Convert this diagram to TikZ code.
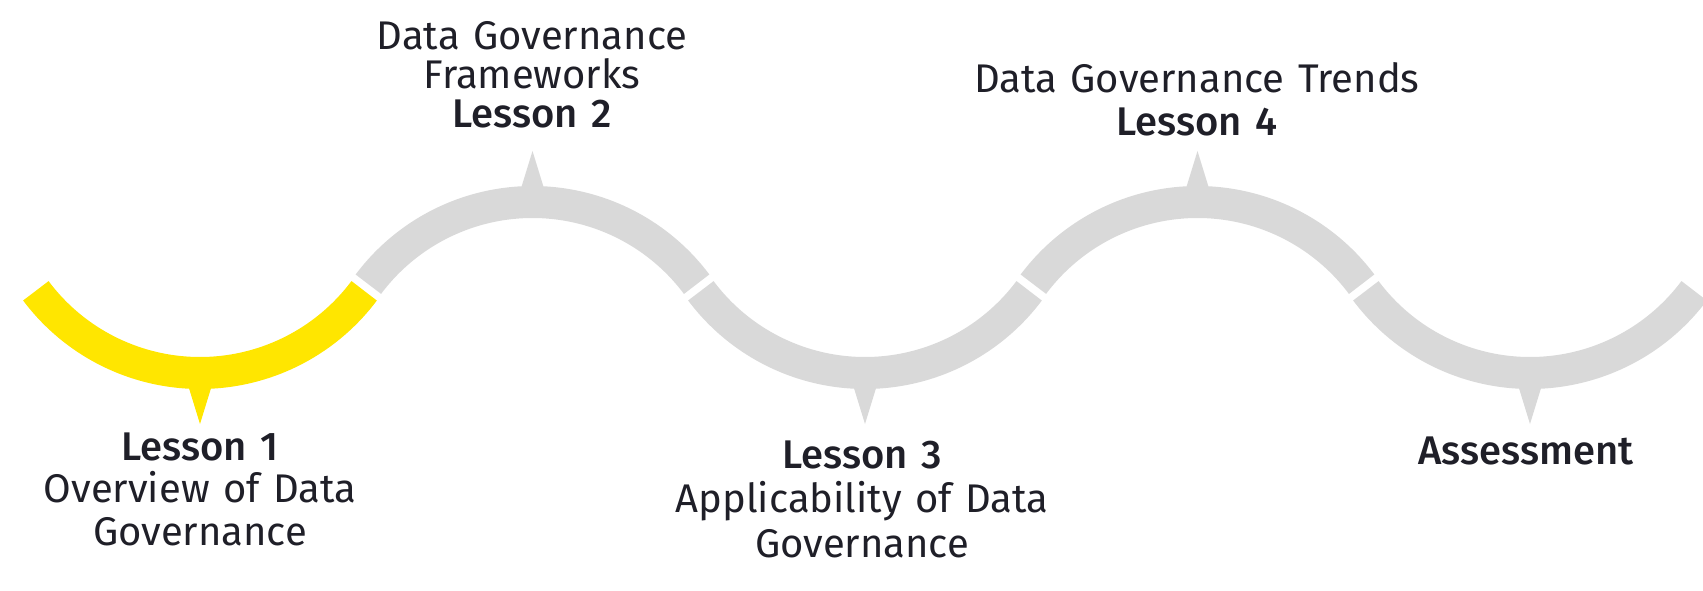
\documentclass[tikz,border=0pt]{standalone}
\usepackage{fontspec}
\setmainfont{Fira Sans}[BoldFont={* Medium}]
\usepackage{tikz}

\definecolor{eyyellow}{HTML}{FFE600}
\definecolor{waygrey}{HTML}{D9D9D9}
\definecolor{inkdark}{HTML}{1F1F28}

\begin{document}
\begin{tikzpicture}[x=1pt, y=1pt,
    wave/.style={line width=32pt, draw=waygrey},
    lbl/.style={text width=520pt, align=center, anchor=base, inner sep=0pt,
        text=inkdark, font=\fontsize{40}{42.5}\selectfont}]
    \useasboundingbox (0,0) rectangle (1703,590);

    % Draw the wave: down arcs centred at y=422, up arcs at y=183
    \draw[wave, draw=eyyellow] (200,422) ++(216.8:205) arc[start angle=216.8, end angle=323.2, radius=205];
    \draw[wave] (532.5,183) ++(143.2:205) arc[start angle=143.2, end angle=36.8, radius=205];
    \draw[wave] (865,422) ++(216.8:205) arc[start angle=216.8, end angle=323.2, radius=205];
    \draw[wave] (1197.5,183) ++(143.2:205) arc[start angle=143.2, end angle=36.8, radius=205];
    \draw[wave] (1530,422) ++(216.8:205) arc[start angle=216.8, end angle=323.2, radius=205];

    % Draw the pointers
    \fill[eyyellow] (188,205) -- (212,205) -- (200,166) -- cycle;
    \fill[waygrey] (520.5,400) -- (544.5,400) -- (532.5,439) -- cycle;
    \fill[waygrey] (853,205) -- (877,205) -- (865,166) -- cycle;
    \fill[waygrey] (1185.5,400) -- (1209.5,400) -- (1197.5,439) -- cycle;
    \fill[waygrey] (1518,205) -- (1542,205) -- (1530,166) -- cycle;

    % Labels
    \node[lbl] (lesson1) at (200,130) {\textbf{Lesson 1}\\Overview of Data\\Governance};
    \node[lbl, font=\fontsize{40}{39}\selectfont] (lesson2) at (532,540) {Data Governance\\Frameworks\\\textbf{Lesson 2}};
    \node[lbl, font=\fontsize{40}{44.5}\selectfont] (lesson3) at (862,122) {\textbf{Lesson 3}\\Applicability of Data\\Governance};
    \node[lbl] (lesson4) at (1197,497) {Data Governance Trends\\\textbf{Lesson 4}};
    \node[lbl] (assess) at (1526,126) {\textbf{Assessment}};
\end{tikzpicture}
\end{document}
